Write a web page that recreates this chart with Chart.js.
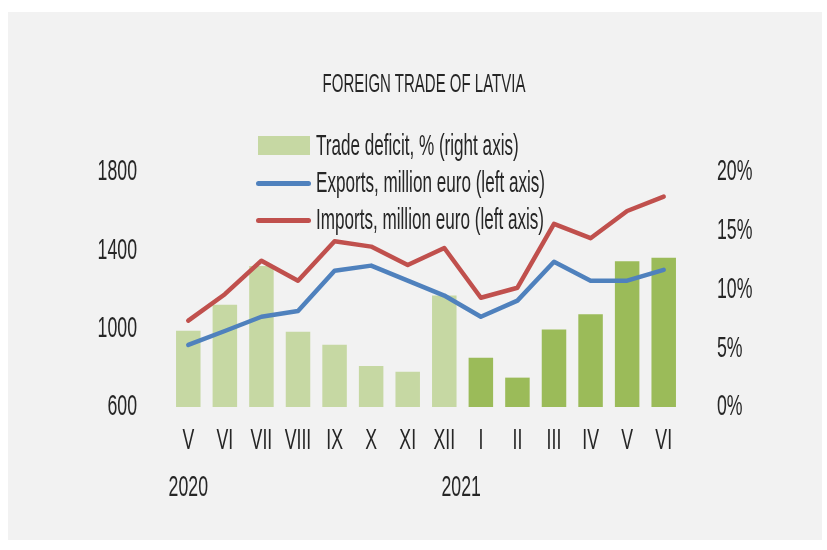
<!DOCTYPE html>
<html>
<head>
<meta charset="utf-8">
<script src="https://cdn.jsdelivr.net/npm/chart.js@4"></script>
<style>
  body { margin: 0; background: #fff; }
  #wrap { position: relative; width: 827px; height: 550px; }
  #box { position: absolute; left: 8px; top: 12px; width: 814px; height: 528px; background: #f2f2f2; }
  #chart { position: absolute; left: 0; top: 0; }
  .txt { position: absolute; font-family: 'Liberation Sans', sans-serif; color: #262626; white-space: nowrap; }
  #title { left: 0; width: 848px; top: 68px; font-size: 25px; line-height: 30px; text-align: center; transform: scaleX(0.6); }
  .leg { left: 316px; font-size: 30px; line-height: 37px; transform: scaleX(0.57); transform-origin: left center; }
  .sw { position: absolute; }
</style>
</head>
<body>
<div id="wrap">
  <div id="box"></div>
  <canvas id="chart" width="827" height="550"></canvas>
  <div id="title" class="txt">FOREIGN TRADE OF LATVIA</div>
  <div class="sw" style="left:258px;top:136px;width:52px;height:19px;background:#c6d8a3"></div>
  <div class="sw" style="left:256px;top:181px;width:55px;height:5px;border-radius:3px;background:#4f81bd"></div>
  <div class="sw" style="left:256px;top:218px;width:55px;height:5px;border-radius:3px;background:#c0504d"></div>
  <div class="txt leg" style="top:126px">Trade deficit, % (right axis)</div>
  <div class="txt leg" style="top:163px">Exports, million euro (left axis)</div>
  <div class="txt leg" style="top:200px">Imports, million euro (left axis)</div>
</div>
<script>
const months = ['V', 'VI', 'VII', 'VIII', 'IX', 'X', 'XI', 'XII', 'I', 'II', 'III', 'IV', 'V', 'VI'];
const years = ['2020', '', '', '', '', '', '', '', '2021', '', '', '', '', ''];
const exportsM = [917, 988, 1061, 1090, 1296, 1322, 1245, 1169, 1061, 1143, 1342, 1245, 1245, 1300];
const importsM = [1041, 1176, 1347, 1245, 1446, 1419, 1325, 1412, 1158, 1209, 1535, 1462, 1601, 1674];
const deficit = [6.5, 8.7, 12.0, 6.4, 5.3, 3.5, 3.0, 9.5, 4.2, 2.5, 6.6, 7.9, 12.4, 12.7];

// the 2021 year label sits a bit left of its month in the original
const labels = months.map((m, i) => {
  if (!years[i]) return m;
  return [m, i > 0 ? years[i] + '\u00a0'.repeat(8) : years[i]];
});
let yr = '';
const barColors = months.map((m, i) => {
  if (years[i]) yr = years[i];
  return yr === '2020' ? '#c6d8a3' : '#9bbb59';
});

const canvas = document.querySelector('#chart');
const ctx = canvas.getContext('2d');
// narrow the canvas text, the original font is very condensed
const fill = ctx.fillText;
ctx.fillText = function (text, x, y) {
  this.save();
  this.translate(x, y);
  this.scale(0.59, 1);
  fill.call(this, text, 0, 0);
  this.restore();
};

const tickFont = { family: "'Liberation Sans', sans-serif", size: 30 };

new Chart(ctx, {
  type: 'bar',
  data: {
    labels: labels,
    datasets: [
      {
        type: 'line',
        label: 'Exports, million euro (left axis)',
        data: exportsM,
        borderColor: '#4f81bd',
        borderWidth: 4.5,
        pointRadius: 0,
        borderCapStyle: 'round',
        borderJoinStyle: 'round',
        yAxisID: 'y',
        order: 0
      },
      {
        type: 'line',
        label: 'Imports, million euro (left axis)',
        data: importsM,
        borderColor: '#c0504d',
        borderWidth: 4.5,
        pointRadius: 0,
        borderCapStyle: 'round',
        borderJoinStyle: 'round',
        yAxisID: 'y',
        order: 0
      },
      {
        label: 'Trade deficit, % (right axis)',
        data: deficit,
        backgroundColor: barColors,
        barPercentage: 0.67,
        categoryPercentage: 1,
        yAxisID: 'y1',
        order: 1
      }
    ]
  },
  options: {
    responsive: false,
    animation: false,
    layout: { padding: { top: 172, left: 0, right: 0, bottom: 0 } },
    plugins: { legend: { display: false }, title: { display: false }, tooltip: { enabled: false } },
    scales: {
      x: {
        grid: { display: false, drawTicks: false },
        border: { display: false },
        ticks: { font: Object.assign({ lineHeight: 1.567 }, tickFont), color: '#262626', padding: 10.5, maxRotation: 0, autoSkip: false },
        afterFit: s => { s.height = 143; }
      },
      y: {
        position: 'left',
        min: 600, max: 1800,
        grid: { display: false, drawTicks: false },
        border: { display: false },
        ticks: { stepSize: 400, font: tickFont, color: '#262626', padding: 33, callback: v => String(v) },
        afterFit: s => { s.width = 170; }
      },
      y1: {
        position: 'right',
        min: 0, max: 20,
        grid: { display: false, drawTicks: false },
        border: { display: false },
        ticks: { stepSize: 5, font: tickFont, color: '#262626', padding: 35, callback: v => v + '%' },
        afterFit: s => { s.width = 145; }
      }
    }
  }
});
</script>
</body>
</html>
